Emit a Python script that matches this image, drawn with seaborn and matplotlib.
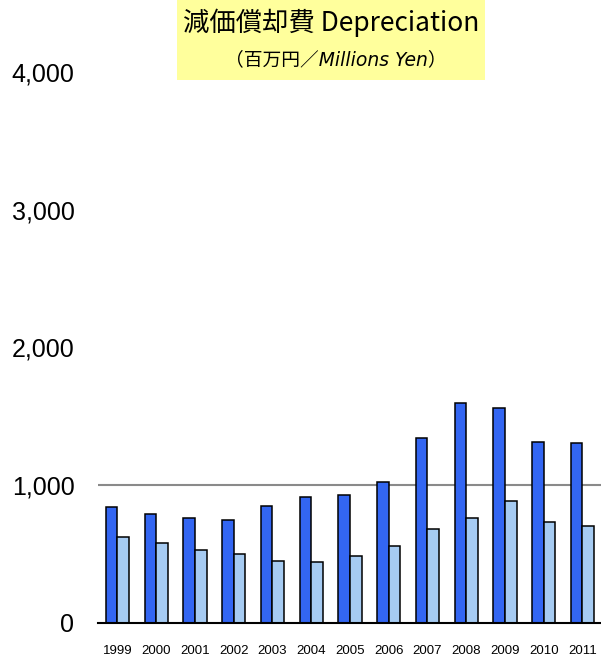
import matplotlib
matplotlib.use("Agg")
import matplotlib.pyplot as plt
import seaborn as sns
import pandas as pd
from matplotlib.patches import Rectangle

years = ["1999", "2000", "2001", "2002", "2003", "2004", "2005",
         "2006", "2007", "2008", "2009", "2010", "2011"]
series_dark = [843, 790, 764, 744, 845, 915, 928, 1022, 1340, 1595, 1561, 1311, 1306]
series_light = [621, 581, 525, 499, 451, 441, 484, 554, 679, 759, 881, 733, 706]
series_names = ["Series 1", "Series 2"]
y_ticks = [0, 1000, 2000, 3000, 4000]
y_tick_labels = ["0", "1,000", "2,000", "3,000", "4,000"]
title_main = "減価償却費 Depreciation"
title_sub = "（百万円／Millions Yen）"

df = pd.DataFrame({
    "year": years * 2,
    "value": series_dark + series_light,
    "series": [series_names[0]] * len(years) + [series_names[1]] * len(years),
})

sns.set_theme(style="white")
plt.rcParams["font.family"] = ["Liberation Sans", "Noto Sans CJK JP", "DejaVu Sans"]
plt.rcParams["text.color"] = "black"
plt.rcParams["xtick.color"] = "black"
plt.rcParams["ytick.color"] = "black"

fig = plt.figure(figsize=(6.01, 6.60), dpi=100)
ax = fig.add_axes([98 / 601, 37.3 / 660, 503.75 / 601, 550.4 / 660])

sns.barplot(data=df, x="year", y="value", hue="series", order=years,
            hue_order=series_names, palette=["#3366F2", "#A6CBF2"],
            saturation=1, width=0.6, edgecolor="black", linewidth=1.1,
            ax=ax, legend=False)

ax.set_xlim(-0.5, 12.5)
ax.set_ylim(0, 4000)
ax.axhline(1000, color="#8a8a8a", linewidth=1.5, zorder=0.5)
ax.set_yticks(y_ticks)
ax.set_yticklabels(y_tick_labels, fontsize=18)
ax.tick_params(axis="y", length=0, pad=17, labelcolor="black")
ax.tick_params(axis="x", length=0, pad=16, labelsize=9.5, labelcolor="black")
ax.set_xlabel("")
ax.set_ylabel("")
for s in ["left", "right", "top"]:
    ax.spines[s].set_visible(False)
ax.spines["bottom"].set_color("black")
ax.spines["bottom"].set_linewidth(1.5)
ax.grid(False)

fig.patches.append(Rectangle((177 / 601, 1 - 80 / 660), 308 / 601, 80 / 660,
                             transform=fig.transFigure, facecolor="#FFFF9C",
                             edgecolor="none", zorder=0))
fig.text(331 / 601, 1 - 23 / 660, title_main, ha="center", va="center",
         fontsize=19, color="black", family=["Noto Sans CJK JP", "DejaVu Sans"])
fig.text(336 / 601, 1 - 60 / 660, title_sub, ha="center", va="center",
         fontsize=13.5, style="italic", color="black",
         family=["DejaVu Sans", "Noto Sans CJK JP"])

fig.savefig("out.png", dpi=100)
